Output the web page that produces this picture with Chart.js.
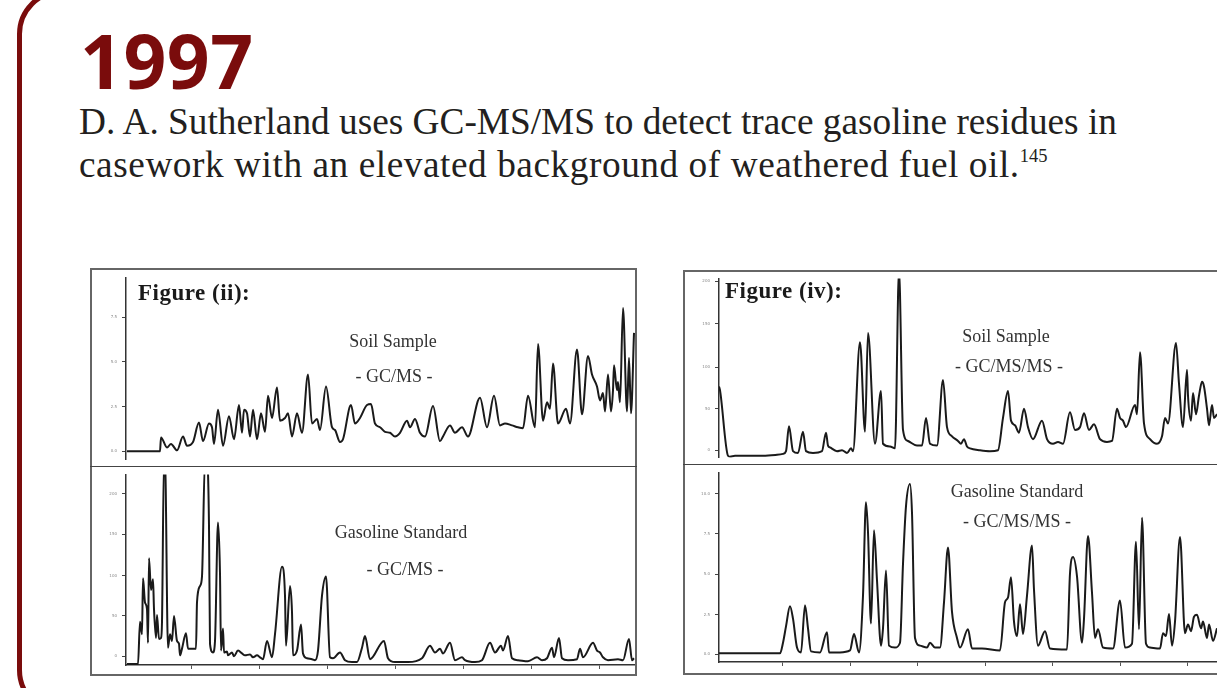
<!DOCTYPE html>
<html>
<head>
<meta charset="utf-8">
<script src="https://cdn.jsdelivr.net/npm/chart.js@4.4.0/dist/chart.umd.min.js"></script>
<style>
  html, body { margin: 0; padding: 0; background: #fff; }
  body { width: 1217px; height: 688px; position: relative; overflow: hidden; }
  #frame { position: absolute; left: 17px; top: -11px; width: 1400px; height: 726px; box-sizing: border-box;
           border: 5px solid #7a0c0c; border-radius: 45px; }
  #year { position: absolute; left: 80px; top: 23px; font-family: "Open Sans", sans-serif; font-weight: 700;
          font-size: 75px; line-height: 75px; color: #7a0c0c; letter-spacing: 0.5px; }
  #lede { position: absolute; left: 79px; top: 100px; font-family: "Liberation Serif", "Times New Roman", serif;
          font-size: 37.3px; line-height: 43px; color: #231f20; white-space: nowrap; }
  #lede .l2 { letter-spacing: 0.55px; }
  #lede .ref { font-size: 18.5px; position: relative; top: -15px; line-height: 0; letter-spacing: 0; }
  .box { position: absolute; border: 2px solid #666; box-sizing: border-box; }
  .rule { position: absolute; height: 0; border-top: 1.5px solid #444; }
  canvas { position: absolute; }
  .lbl { position: absolute; width: 240px; text-align: center; font-family: "Liberation Serif", serif;
         font-size: 18px; line-height: 18px; color: #333; white-space: nowrap; }
  .fig { position: absolute; font-family: "Liberation Serif", serif; font-weight: 700; font-size: 23px;
         line-height: 23px; color: #1a1a1a; white-space: nowrap; letter-spacing: 0.5px; }
</style>
</head>
<body>
<div id="frame"></div>
<div id="year">1997</div>
<div id="lede">D. A. Sutherland uses GC-MS/MS to detect trace gasoline residues in<br><span class="l2">casework with an elevated background of weathered fuel oil.</span><span class="ref">145</span></div>

<div class="box" style="left:90px; top:268px; width:547px; height:408px;"></div>
<div class="rule" style="left:90px; top:466px; width:547px;"></div>
<div class="box" style="left:683px; top:270px; width:536px; height:405px; border-right-color:#ccc;"></div>
<div class="rule" style="left:683px; top:464px; width:534px;"></div>

<canvas id="soilMs" width="543" height="197" style="left:92px; top:270px;"></canvas>
<canvas id="gasMs" width="543" height="208" style="left:92px; top:467px;"></canvas>
<canvas id="soilMsms" width="532" height="194" style="left:685px; top:271px;"></canvas>
<canvas id="gasMsms" width="532" height="209" style="left:685px; top:465px;"></canvas>

<div class="fig" style="left:138px; top:281px;">Figure (ii):</div>
<div class="lbl" style="left:273px; top:332px;">Soil Sample</div>
<div class="lbl" style="left:274px; top:367px;">- GC/MS -</div>
<div class="lbl" style="left:281px; top:523px;">Gasoline Standard</div>
<div class="lbl" style="left:285px; top:560px;">- GC/MS -</div>

<div class="fig" style="left:725px; top:279px;">Figure (iv):</div>
<div class="lbl" style="left:886px; top:327px;">Soil Sample</div>
<div class="lbl" style="left:889px; top:357px;">- GC/MS/MS -</div>
<div class="lbl" style="left:897px; top:482px;">Gasoline Standard</div>
<div class="lbl" style="left:897px; top:512px;">- GC/MS/MS -</div>

<script>
// Figure (ii) soil sample, GC/MS  (scan number, abundance)
var soilMsScan = [4,37,38,44,48,54,60,64,70,76,
  80,86,89,91,95,100,106,111,116,119,
  121,124,127,130,134,138,142,145,149,154,
  157,162,165,169,174,179,185,189,194,197,
  203,209,212,217,220,228,232,237,244,248,
  252,257,262,267,272,277,284,287,292,297,
  302,310,317,320,327,332,339,345,357,364,
  371,377,382,389,395,400,405,412,415,420,
  424,427,430,435,443,447,454,459,465,469,
  474,477,480,482,485,488,490,491,494,495,
  497,500,504,506,508,511];
var soilMsAbund = [0,0,15,4,8,1,16,6,10,31,
  11,30,26,8,45,6,38,13,50,20,
  45,41,16,45,13,41,21,60,36,69,
  33,36,41,16,41,20,83,30,35,23,
  70,26,23,10,13,50,30,36,50,51,
  30,26,21,20,16,20,33,26,35,20,
  16,49,11,16,28,20,26,16,58,26,
  60,28,30,28,26,25,60,26,116,33,
  53,46,95,30,46,30,110,40,103,83,
  70,55,63,43,83,43,66,93,66,75,
  53,155,43,101,41,128];

// Figure (ii) gasoline standard, GC/MS
var gasMsScan = [4,15,17,19,20,22,24,25,26,28,
  30,31,33,34,36,38,39,41,42,45,
  47,49,51,54,56,57,59,63,65,69,
  73,74,77,79,82,84,86,87,90,92,
  95,97,98,100,101,104,105,109,111,115,
  119,122,127,130,134,137,140,144,149,152,
  159,162,163,167,169,170,174,178,180,184,
  189,192,195,199,203,207,210,217,222,229,
  234,239,242,247,261,265,272,285,299,307,
  312,317,320,327,332,339,342,352,359,367,
  372,378,380,385,389,395,405,414,419,424,
  429,431,436,439,445,454,457,460,470,474,
  477,480,485,495,500,506,509,511];
var gasMsAbund = [-8,-8,36,23,81,56,49,14,102,69,
  80,49,19,43,18,19,36,205,205,9,
  23,16,42,16,13,1,8,24,8,8,
  8,56,73,83,205,205,136,13,4,16,
  139,86,6,29,4,5,1,4,0,6,
  3,1,2,-1,1,-1,-3,16,-1,23,
  93,63,11,73,46,1,6,33,3,-2,
  -3,-4,6,63,83,-1,-2,4,-4,-6,
  -6,9,21,-3,16,-2,-6,-6,-2,11,
  4,8,3,14,-4,-1,-4,-6,-4,14,
  4,11,6,21,-2,-4,-5,-1,-4,-2,
  9,-1,19,-2,-4,-3,8,-1,14,6,
  4,-1,-4,-3,-4,18,-4,-2];

// Figure (iv) soil sample, GC/MS/MS
var soilMsmsScan = [4,5,13,15,20,32,48,62,68,71,
  74,78,83,88,91,98,107,111,113,115,
  122,127,132,136,138,145,150,153,160,166,
  168,175,180,184,188,193,202,207,211,215,
  222,228,232,237,243,246,249,252,255,265,
  275,283,288,293,296,300,304,309,313,318,
  327,332,338,343,348,355,360,365,369,374,
  379,385,392,397,402,405,408,411,420,422,
  425,429,435,442,447,450,453,461,464,468,
  472,473,476,478,481,484,487,489,492,494,
  497,499,502];
var soilMsmsAbund = [69,65,-6,-7,-6,-6,-6,-5,-4,-1,
  26,-1,-3,20,-1,-3,-1,19,5,3,
  -1,0,-3,2,-1,117,20,127,7,64,
  7,4,2,195,22,10,5,5,35,7,
  5,76,25,15,10,7,12,4,2,0,
  -1,0,35,64,32,27,19,45,25,12,
  32,12,7,9,7,41,22,25,40,22,
  28,12,9,10,45,35,32,25,49,39,
  106,29,12,7,15,35,29,116,72,25,
  87,59,32,62,39,59,74,69,45,27,
  49,35,39];

// Figure (iv) gasoline standard, GC/MS/MS
var gasMsmsScan = [4,65,68,71,75,78,82,86,90,93,
  96,105,112,114,125,135,139,144,148,151,
  153,156,159,162,166,168,171,174,180,185,
  188,191,195,197,200,205,212,215,220,225,
  229,233,237,242,245,253,257,267,285,290,
  293,296,299,302,305,308,312,317,319,323,
  330,335,352,355,358,362,367,369,373,377,
  380,383,388,398,405,410,417,421,424,427,
  431,435,445,448,451,454,457,460,465,470,
  473,476,479,482,486,488,492,494,498,502];
var gasMsmsAbund = [1,1,12,29,50,37,7,2,51,27,
  3,2,23,2,2,4,21,2,61,158,
  127,32,129,77,9,27,87,9,7,12,
  94,154,177,147,17,9,7,12,7,7,
  54,111,44,17,7,26,6,6,4,54,
  59,80,34,19,52,21,61,113,67,9,
  24,6,5,84,101,81,12,37,123,64,
  17,26,7,6,56,7,11,117,26,142,
  11,7,6,22,19,42,9,34,122,22,
  31,24,39,41,27,34,17,31,14,27];

// axis ticks
var leftScanTicks = [68, 136, 204, 272, 340, 408, 476];
var rightScanTicks = [67.5, 135, 202.5, 270, 337.5, 405, 472.5];
var soilMsTicks = [0, 48, 97, 145];
var soilMsLabels = ["0.0", "2.5", "5.0", "7.5"];
var gasMsTicks = [0, 42, 84, 127, 169];
var gasMsLabels = ["0", "50", "100", "150", "200"];
var soilMsmsTicks = [0, 45, 90, 137, 183];
var soilMsmsLabels = ["0", "50", "100", "150", "200"];
var gasMsmsTicks = [0, 41, 83, 125, 167];
var gasMsmsLabels = ["0.0", "2.5", "5.0", "7.5", "10.0"];

function toPoints(xs, ys) {
  var pts = [];
  for (var i = 0; i < xs.length; i++) pts.push({ x: xs[i], y: ys[i] });
  return pts;
}

//Ritar ett kromatogram
function drawTrace(id, xs, ys, o) {
  var ctx = document.getElementById(id).getContext("2d");
  return new Chart(ctx, {
    type: "line",
    data: { datasets: [{
      data: toPoints(xs, ys),
      borderColor: "#1a1a1a",
      borderWidth: 2,
      borderJoinStyle: "round",
      pointRadius: 0,
      cubicInterpolationMode: "monotone",
      fill: false
    }] },
    options: {
      responsive: false,
      animation: false,
      devicePixelRatio: 1,
      layout: { padding: 0 },
      plugins: { legend: { display: false }, tooltip: { enabled: false } },
      scales: {
        x: {
          type: "linear",
          display: o.showX,
          min: o.xMin, max: o.xMax,
          afterBuildTicks: function (s) { s.ticks = o.xTicks.map(function (v) { return { value: v }; }); },
          afterFit: function (s) { s.height = o.xHeight; },
          ticks: { display: false },
          grid: { drawOnChartArea: false, drawTicks: true, tickLength: 4, color: "#555", lineWidth: 1 },
          border: { display: true, color: "#333", width: 1.5 }
        },
        y: {
          min: o.yMin, max: o.yMax,
          afterBuildTicks: function (s) { s.ticks = o.yTicks.map(function (v) { return { value: v }; }); },
          afterFit: function (s) { s.width = 34; },
          ticks: {
            font: { size: 4, family: "DejaVu Sans" }, color: "#888", padding: 5,
            callback: function (v, i) { return o.yLabels[i]; }
          },
          grid: { drawOnChartArea: false, drawTicks: true, tickLength: 4, color: "#444", lineWidth: 1 },
          border: { display: true, color: "#333", width: 1.5 }
        }
      }
    }
  });
}

drawTrace("soilMs", soilMsScan, soilMsAbund, {
  showX: false, xHeight: 0, xMin: 3, xMax: 512, xTicks: leftScanTicks,
  yMin: -9, yMax: 188, yTicks: soilMsTicks, yLabels: soilMsLabels
});
drawTrace("gasMs", gasMsScan, gasMsAbund, {
  showX: true, xHeight: 10, xMin: 3, xMax: 512, xTicks: leftScanTicks,
  yMin: -9, yMax: 189, yTicks: gasMsTicks, yLabels: gasMsLabels
});
drawTrace("soilMsms", soilMsmsScan, soilMsmsAbund, {
  showX: false, xHeight: 0, xMin: 4, xMax: 502, xTicks: rightScanTicks,
  yMin: -8, yMax: 186, yTicks: soilMsmsTicks, yLabels: soilMsmsLabels
});
drawTrace("gasMsms", gasMsmsScan, gasMsmsAbund, {
  showX: true, xHeight: 12, xMin: 4, xMax: 502, xTicks: rightScanTicks,
  yMin: -8, yMax: 189, yTicks: gasMsmsTicks, yLabels: gasMsmsLabels
});
</script>
</body>
</html>
